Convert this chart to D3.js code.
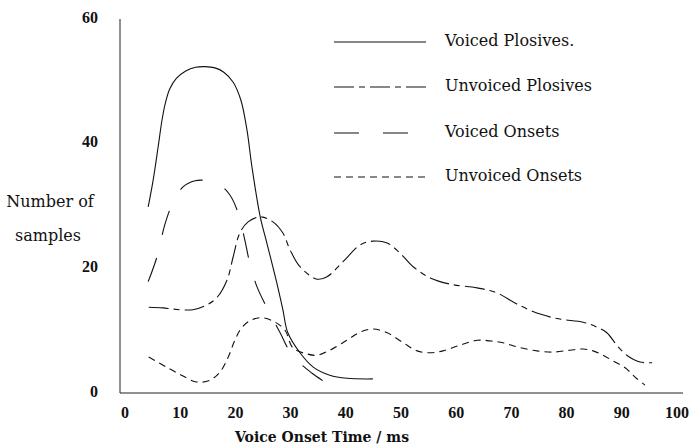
<!DOCTYPE html>
<html>
<head>
<meta charset="utf-8">
<script src="https://cdn.jsdelivr.net/npm/d3@7"></script>
<style>
  html, body { margin: 0; padding: 0; background: #fff; }
  svg { display: block; }
</style>
</head>
<body>
<div id="chart"></div>
<script>
// series names, in legend order
const seriesNames = ["Voiced Plosives.", "Unvoiced Plosives", "Voiced Onsets", "Unvoiced Onsets"]

// voice onset time (ms) and number of samples
const voicedPlosivesVot = [4.2, 5.1, 6.0, 6.7, 7.3, 8.1, 9.3, 11.0, 12.8, 14.5, 16.3, 17.9, 19.6, 21.0, 22.1, 23.0, 24.5, 25.7, 27.5, 28.6, 29.5, 31.7, 34.1, 37.1, 40.2, 44.9]
const voicedPlosivesN   = [29.7, 34.0, 39.3, 43.6, 46.3, 48.6, 50.3, 51.5, 52.1, 52.2, 52.0, 51.3, 49.7, 46.8, 42.0, 36.1, 28.1, 23.9, 17.5, 13.2, 9.5, 6.3, 4.0, 2.7, 2.2, 2.1]

const unvoicedPlosivesVot = [4.3, 6.9, 8.7, 12.3, 14.9, 16.7, 18.5, 19.6, 20.8, 22.3, 24.5, 26.8, 28.6, 29.9, 31.7, 34.8, 36.6, 39.5, 42.6, 44.9, 47.5, 49.8, 52.2, 55.3, 58.9, 63.8, 67.4, 71.0, 75.2, 78.8, 83.0, 85.5, 87.3, 89.1, 90.9, 93.3, 95.5]
const unvoicedPlosivesN   = [13.6, 13.5, 13.3, 13.2, 14.0, 15.2, 18.0, 21.7, 25.5, 27.3, 28.1, 27.3, 25.5, 22.8, 20.1, 18.1, 18.5, 20.9, 23.6, 24.2, 23.9, 22.3, 20.1, 18.3, 17.3, 16.7, 15.9, 14.1, 12.5, 11.7, 11.2, 10.4, 9.5, 7.5, 5.9, 4.8, 4.7]

const voicedOnsetsVot = [4.2, 5.8, 7.2, 8.5, 10.5, 12.7, 14.9, 17.2, 19.0, 20.5, 21.7, 22.6, 23.9, 25.9, 28.1, 30.3, 33.9, 37.1]
const voicedOnsetsN   = [17.7, 21.7, 26.8, 30.0, 32.9, 33.9, 33.9, 33.2, 31.6, 28.7, 24.4, 20.7, 16.9, 13.2, 9.5, 5.9, 3.0, 1.1]

const unvoicedOnsetsVot = [4.3, 6.9, 9.6, 13.0, 15.4, 17.2, 18.7, 19.9, 21.2, 23.0, 25.0, 27.2, 29.0, 30.4, 33.0, 34.8, 37.1, 40.2, 42.6, 44.9, 47.5, 50.4, 52.9, 55.3, 57.6, 60.7, 63.8, 66.1, 68.5, 71.2, 74.6, 77.5, 80.6, 83.0, 84.8, 86.6, 88.4, 90.6, 92.4, 94.2]
const unvoicedOnsetsN   = [5.6, 4.3, 3.0, 1.6, 1.9, 3.2, 5.6, 8.3, 10.4, 11.6, 11.9, 11.2, 9.9, 7.1, 6.1, 5.9, 6.7, 8.3, 9.6, 10.1, 9.5, 7.9, 6.6, 6.3, 6.6, 7.5, 8.3, 8.2, 7.9, 7.2, 6.6, 6.4, 6.7, 6.9, 6.6, 5.9, 5.0, 3.9, 2.4, 1.1]

const xTicks = [0, 10, 20, 30, 40, 50, 60, 70, 80, 90, 100]
const yTicks = [0, 20, 40, 60]

const width = 694, height = 446
const serif = "'DejaVu Serif', serif"
const numFont = "'Liberation Serif', 'Times New Roman', serif"

const x = d3.scaleLinear().domain([0, 100]).range([125, 677])
const y = d3.scaleLinear().domain([0, 60]).range([392, 18])

const series = [
  { name: seriesNames[0], vot: voicedPlosivesVot, n: voicedPlosivesN, dash: null },
  { name: seriesNames[1], vot: unvoicedPlosivesVot, n: unvoicedPlosivesN, dash: "20 5 6 5" },
  { name: seriesNames[2], vot: voicedOnsetsVot, n: voicedOnsetsN, dash: "25 24" },
  { name: seriesNames[3], vot: unvoicedOnsetsVot, n: unvoicedOnsetsN, dash: "7 5" }
]

const svg = d3.select("#chart").append("svg")
  .attr("width", width)
  .attr("height", height)

svg.append("rect")
  .attr("width", width)
  .attr("height", height)
  .attr("fill", "#fff")

// axes: plain lines, no tick marks
const axes = svg.append("g").attr("id", "axes")
axes.append("line")
  .attr("x1", 120).attr("x2", 120)
  .attr("y1", 19).attr("y2", y(0) + 1)
  .attr("stroke", "#222")
  .attr("stroke-width", 1)
axes.append("line")
  .attr("x1", 120).attr("x2", 683)
  .attr("y1", y(0) + 1).attr("y2", y(0) + 1)
  .attr("stroke", "#222")
  .attr("stroke-width", 1.2)

// tick labels
axes.append("g").attr("id", "x-labels")
  .selectAll("text")
  .data(xTicks)
  .enter().append("text")
    .attr("x", d => x(d))
    .attr("y", 418)
    .attr("text-anchor", "middle")
    .attr("fill", "#111")
    .style("font", `bold 16px ${numFont}`)
    .text(d => d)

axes.append("g").attr("id", "y-labels")
  .selectAll("text")
  .data(yTicks)
  .enter().append("text")
    .attr("x", 98)
    .attr("y", d => y(d) - 1)
    .attr("dy", "0.35em")
    .attr("text-anchor", "end")
    .attr("fill", "#111")
    .style("font", `bold 16px ${numFont}`)
    .text(d => d)

// axis titles
svg.append("text")
  .attr("x", 322)
  .attr("y", 442)
  .attr("text-anchor", "middle")
  .attr("fill", "#111")
  .style("font", `bold 14px ${serif}`)
  .text("Voice Onset Time / ms")

const yTitle = svg.append("text")
  .attr("text-anchor", "middle")
  .attr("fill", "#111")
  .style("font", `16px ${serif}`)
yTitle.append("tspan").attr("x", 50).attr("y", 207).text("Number of")
yTitle.append("tspan").attr("x", 48).attr("y", 241).text("samples")

// curves
const line = d3.line()
  .x(d => x(d[0]))
  .y(d => y(d[1]))
  .curve(d3.curveCatmullRom.alpha(0.5))

svg.append("g").attr("id", "curves")
  .selectAll("path")
  .data(series)
  .enter().append("path")
    .attr("fill", "none")
    .attr("stroke", "#111")
    .attr("stroke-width", 1.1)
    .attr("stroke-dasharray", d => d.dash)
    .attr("d", d => line(d3.zip(d.vot, d.n)))

// legend
const legendY = [42, 87, 133, 177]
const legend = svg.append("g").attr("id", "legend")
  .selectAll("g")
  .data(series)
  .enter().append("g")
    .attr("transform", (d, i) => `translate(0,${legendY[i]})`)

legend.append("line")
  .attr("x1", 334).attr("x2", 426)
  .attr("stroke", "#111")
  .attr("stroke-width", 1.1)
  .attr("stroke-dasharray", d => d.dash)

legend.append("text")
  .attr("x", 445)
  .attr("y", 4)
  .attr("fill", "#111")
  .style("font", `16px ${serif}`)
  .text(d => d.name)
</script>
</body>
</html>
